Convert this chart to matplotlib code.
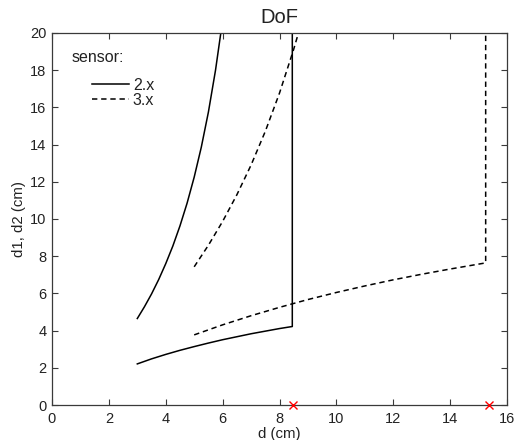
import matplotlib
matplotlib.use("Agg")
import matplotlib.pyplot as plt
from matplotlib.lines import Line2D

plt.rcParams['font.family'] = ['Liberation Sans', 'DejaVu Sans']

# Sensor 2.x: object distance d and near/far focus limits (cm)
d_near_2x = [3.0, 3.5, 4.0, 4.5, 5.0, 5.5, 6.0, 6.5, 7.0, 7.5, 8.0, 8.45]
near_2x = [2.21, 2.48, 2.72, 2.94, 3.14, 3.33, 3.51, 3.67, 3.83, 3.97, 4.11, 4.22]
d_far_2x = [3.0, 3.25, 3.5, 3.75, 4.0, 4.25, 4.5, 4.75, 5.0, 5.25, 5.5, 5.75, 6.0]
far_2x = [4.65, 5.28, 5.97, 6.74, 7.60, 8.55, 9.63, 10.85, 12.25, 13.86, 15.75, 18.0, 20.69]

# Sensor 3.x
d_near_3x = [5.0, 6.0, 7.0, 8.0, 9.0, 10.0, 11.0, 12.0, 13.0, 14.0, 15.25]
near_3x = [3.77, 4.31, 4.80, 5.25, 5.67, 6.05, 6.40, 6.73, 7.03, 7.31, 7.64]
d_far_3x = [5.0, 5.5, 6.0, 6.5, 7.0, 7.5, 8.0, 8.5, 8.75]
far_3x = [7.43, 8.59, 9.87, 11.30, 12.90, 14.71, 16.77, 19.13, 20.44]

# Hyperfocal distances (cm)
hyperfocal = [8.47, 15.37]

sensor_labels = ['2.x', '3.x']
x_ticks = list(range(0, 17, 2))
y_ticks = list(range(0, 21, 2))
y_top = 20

text_col = '#222222'
axis_col = '#3a3a3a'

fig = plt.figure(figsize=(5.15, 4.4), dpi=100)
ax = fig.add_axes([52 / 515, 35 / 440, 455 / 515, 372 / 440])

lw = 1.1
ls_dash = (0, (3.5, 2.5))
styles = ['-', ls_dash]

# 2.x: far limit, near limit, and vertical jump at the hyperfocal distance
ax.plot(d_far_2x, far_2x, color='black', lw=lw, ls=styles[0])
ax.plot(d_near_2x + [d_near_2x[-1]], near_2x + [y_top + 5], color='black', lw=lw, ls=styles[0])

# 3.x
ax.plot(d_far_3x, far_3x, color='black', lw=lw, ls=styles[1])
ax.plot(d_near_3x + [d_near_3x[-1]], near_3x + [y_top + 5], color='black', lw=lw, ls=styles[1])

ax.plot(hyperfocal, [0] * len(hyperfocal), 'x', color='red', ms=6, mew=1.0,
        clip_on=False, zorder=5)

ax.set_xlim(0, 16)
ax.set_ylim(0, y_top)
ax.set_xticks(x_ticks)
ax.set_yticks(y_ticks)
ax.tick_params(direction='in', top=True, right=True, length=4, width=0.8,
               colors=axis_col, labelcolor=text_col, labelsize=10.5)
ax.tick_params(axis='x', pad=5)
ax.tick_params(axis='y', pad=4)
for s in ax.spines.values():
    s.set_color(axis_col)
    s.set_linewidth(0.9)

ax.set_title('DoF', fontsize=14.5, color=text_col, pad=7)
ax.set_xlabel('d (cm)', fontsize=10.8, color=text_col, labelpad=1)
ax.set_ylabel('d1, d2 (cm)', fontsize=10.8, color=text_col, labelpad=3)

# Legend: heading plus indented entries
ax.text(0.044, 0.935, 'sensor:', transform=ax.transAxes, fontsize=11.5,
        color=text_col, ha='left', va='center')
handles = [Line2D([], [], color='black', lw=lw, ls=s) for s in styles]
leg = ax.legend(handles, sensor_labels, loc='upper left',
                bbox_to_anchor=(0.088, 0.879), frameon=False, fontsize=11.5,
                handlelength=2.3, handletextpad=0.25, labelspacing=0.0,
                borderaxespad=0.0, borderpad=0.0)
for t in leg.get_texts():
    t.set_color(text_col)

fig.savefig('out.png', dpi=100)
